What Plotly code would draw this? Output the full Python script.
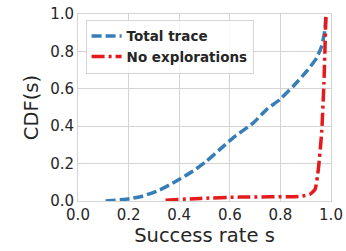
import plotly.graph_objects as go

total_x = [0.109, 0.204, 0.257, 0.323, 0.389, 0.455, 0.508, 0.561, 0.613, 0.693, 0.745, 0.798, 0.851, 0.904, 0.943, 0.963, 0.976, 0.980]
total_y = [0.0, 0.012, 0.027, 0.059, 0.107, 0.160, 0.213, 0.276, 0.338, 0.418, 0.489, 0.543, 0.614, 0.694, 0.765, 0.827, 0.916, 1.0]

noexp_x = [0.346, 0.482, 0.640, 0.877, 0.917, 0.937, 0.950, 0.963, 0.972, 0.978, 0.980]
noexp_y = [0.004, 0.014, 0.021, 0.025, 0.036, 0.062, 0.170, 0.365, 0.630, 0.900, 1.0]

tick_vals = [0.0, 0.2, 0.4, 0.6, 0.8, 1.0]
tick_text = ["0.0", "0.2", "0.4", "0.6", "0.8", "1.0"]

fig = go.Figure()
fig.add_trace(go.Scatter(x=total_x, y=total_y, mode="lines", name="Total trace",
                         line=dict(color="#377eb8", width=3.5, dash="10px,4px", shape="spline", smoothing=0.5)))
fig.add_trace(go.Scatter(x=noexp_x, y=noexp_y, mode="lines", name="No explorations",
                         line=dict(color="#e41a1c", width=3.5, dash="13px,4px,3px,4px", shape="spline", smoothing=0.5)))

axis_common = dict(
    range=[0, 1], tickvals=tick_vals, ticktext=tick_text,
    showgrid=True, gridcolor="#d4d4d4", gridwidth=1,
    showline=True, linecolor="#d4d4d4", linewidth=1, mirror=True,
    zeroline=False, ticks="", tickfont=dict(size=15, color="#262626"),
    automargin=False,
)

fig.update_layout(
    width=346, height=251,
    margin=dict(l=78, r=15, t=14, b=50),
    paper_bgcolor="white", plot_bgcolor="white",
    font=dict(family="DejaVu Sans", color="#262626"),
    xaxis=dict(**axis_common, title=dict(text="Success rate s", font=dict(size=19.5), standoff=5)),
    yaxis=dict(**axis_common, title=dict(text="CDF(s)", font=dict(size=19.5), standoff=6)),
    legend=dict(x=0.03, y=0.97, xanchor="left", yanchor="top",
                bgcolor="rgba(255,255,255,0.8)", bordercolor="#d4d4d4", borderwidth=1,
                font=dict(size=13.5, family="DejaVu Sans", weight="bold"),
                tracegroupgap=0, itemwidth=30),
    showlegend=True,
)

fig.write_html("out.html", config={"displayModeBar": False},
               post_script="document.body.style.margin='0';document.body.style.overflow='hidden';")
